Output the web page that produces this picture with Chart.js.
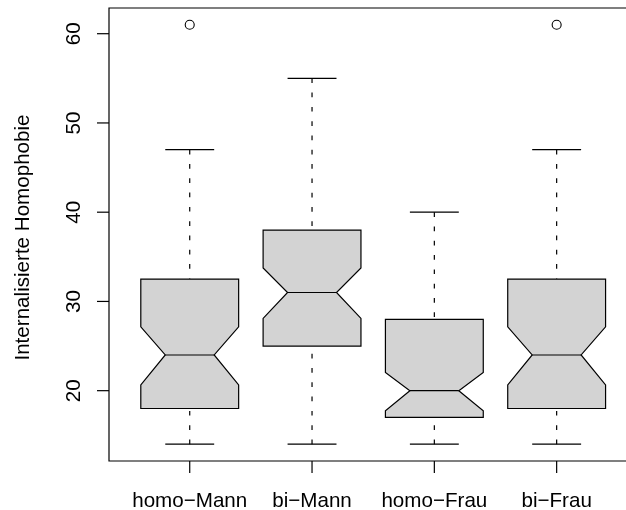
<!DOCTYPE html>
<html>
<head>
<meta charset="utf-8">
<script src="https://cdn.jsdelivr.net/npm/chart.js@4.4.1/dist/chart.umd.min.js"></script>
<style>
  html, body { margin: 0; padding: 0; background: #fff; overflow: hidden; }
  canvas { display: block; }
</style>
</head>
<body>
<canvas id="boxChart" width="626" height="510"></canvas>
<script>
// boxplot stats
const groups = ["homo\u2212Mann", "bi\u2212Mann", "homo\u2212Frau", "bi\u2212Frau"];
const whiskerLow = [14, 14, 14, 14];
const q1 = [18, 25, 17, 18];
const median = [24, 31, 20, 24];
const q3 = [32.5, 38, 28, 32.5];
const whiskerHigh = [47, 55, 40, 47];
const notchLow = [20.65, 28.1, 17.75, 20.65];
const notchHigh = [27.15, 33.75, 22.05, 27.15];
const outliers = [[61], [], [], [61]];
const yTicks = [20, 30, 40, 50, 60];
const yTitle = "Internalisierte Homophobie";

const FONT = '20.6px "Liberation Sans", Arial, sans-serif';

// outlier points for the scatter dataset
const outlierPoints = [];
outliers.forEach(function (list, i) {
    list.forEach(function (v) {
        outlierPoints.push({ x: i + 1, y: v });
    });
});

const boxPlugin = {
    id: "boxPlugin",
    beforeDatasetsDraw: function (chart) {
        const ctx = chart.ctx;
        const xs = chart.scales.x;
        const ys = chart.scales.y;
        const area = chart.chartArea;
        const half = 0.4;

        ctx.save();
        ctx.strokeStyle = "#000";
        ctx.lineWidth = 1.2;

        groups.forEach(function (g, i) {
            const c = i + 1;
            const cx = xs.getPixelForValue(c);

            // whiskers, dashed, drawn from the whisker end to the hinge
            ctx.setLineDash([4.7, 9.6]);
            ctx.beginPath();
            ctx.moveTo(cx, ys.getPixelForValue(whiskerLow[i]));
            ctx.lineTo(cx, ys.getPixelForValue(q1[i]));
            ctx.moveTo(cx, ys.getPixelForValue(whiskerHigh[i]));
            ctx.lineTo(cx, ys.getPixelForValue(q3[i]));
            ctx.stroke();
            ctx.setLineDash([]);

            // staples
            ctx.beginPath();
            [whiskerLow[i], whiskerHigh[i]].forEach(function (v) {
                const py = ys.getPixelForValue(v);
                ctx.moveTo(xs.getPixelForValue(c - half / 2), py);
                ctx.lineTo(xs.getPixelForValue(c + half / 2), py);
            });
            ctx.stroke();

            // notched box
            const pts = [
                [c - half, q1[i]],
                [c - half, notchLow[i]],
                [c - half / 2, median[i]],
                [c - half, notchHigh[i]],
                [c - half, q3[i]],
                [c + half, q3[i]],
                [c + half, notchHigh[i]],
                [c + half / 2, median[i]],
                [c + half, notchLow[i]],
                [c + half, q1[i]]
            ];
            ctx.beginPath();
            pts.forEach(function (p, k) {
                const px = xs.getPixelForValue(p[0]);
                const py = ys.getPixelForValue(p[1]);
                if (k === 0) ctx.moveTo(px, py); else ctx.lineTo(px, py);
            });
            ctx.closePath();
            ctx.fillStyle = "#D3D3D3";
            ctx.fill();
            ctx.stroke();

            // median
            const my = ys.getPixelForValue(median[i]);
            ctx.beginPath();
            ctx.moveTo(xs.getPixelForValue(c - half / 2), my);
            ctx.lineTo(xs.getPixelForValue(c + half / 2), my);
            ctx.stroke();
        });

        // plot frame: the right side lies past the edge of the picture
        ctx.beginPath();
        ctx.moveTo(area.right + 2, area.top);
        ctx.lineTo(area.left, area.top);
        ctx.lineTo(area.left, area.bottom);
        ctx.lineTo(area.right + 2, area.bottom);
        ctx.stroke();

        // y axis ticks and rotated labels
        ctx.fillStyle = "#000";
        ctx.font = FONT;
        ctx.textAlign = "center";
        ctx.textBaseline = "alphabetic";
        yTicks.forEach(function (t) {
            const py = ys.getPixelForValue(t);
            ctx.beginPath();
            ctx.moveTo(area.left - 12, py);
            ctx.lineTo(area.left, py);
            ctx.stroke();
            ctx.save();
            ctx.translate(80, py);
            ctx.rotate(-Math.PI / 2);
            ctx.fillText(String(t), 0, 0);
            ctx.restore();
        });

        // y title
        ctx.save();
        ctx.translate(28.5, (area.top + area.bottom) / 2 + 3);
        ctx.rotate(-Math.PI / 2);
        ctx.fillText(yTitle, 0, 0);
        ctx.restore();

        // x axis ticks and labels
        groups.forEach(function (g, i) {
            const px = xs.getPixelForValue(i + 1);
            ctx.beginPath();
            ctx.moveTo(px, area.bottom);
            ctx.lineTo(px, area.bottom + 12);
            ctx.stroke();
            ctx.fillText(g, px, 506.5);
        });

        ctx.restore();
    }
};

document.addEventListener("DOMContentLoaded", function () {
    const chart = new Chart(document.getElementById("boxChart").getContext("2d"), {
        type: "scatter",
        data: {
            datasets: [{
                label: "outliers",
                data: outlierPoints,
                pointStyle: "circle",
                pointRadius: 4.5,
                pointBackgroundColor: "rgba(0,0,0,0)",
                pointBorderColor: "#000",
                pointBorderWidth: 1.1
            }]
        },
        options: {
            responsive: false,
            animation: false,
            devicePixelRatio: 1,
            layout: {
                autoPadding: false,
                padding: { left: 109, top: 8, right: 0, bottom: 49 }
            },
            plugins: {
                legend: { display: false },
                tooltip: { enabled: false }
            },
            scales: {
                // the frame runs on past the right edge, so the x range is cut at the canvas
                x: { type: "linear", min: 0.34, max: 4.567, display: false },
                y: { type: "linear", min: 12.12, max: 62.88, display: false }
            }
        },
        plugins: [boxPlugin]
    });
});
</script>
</body>
</html>
